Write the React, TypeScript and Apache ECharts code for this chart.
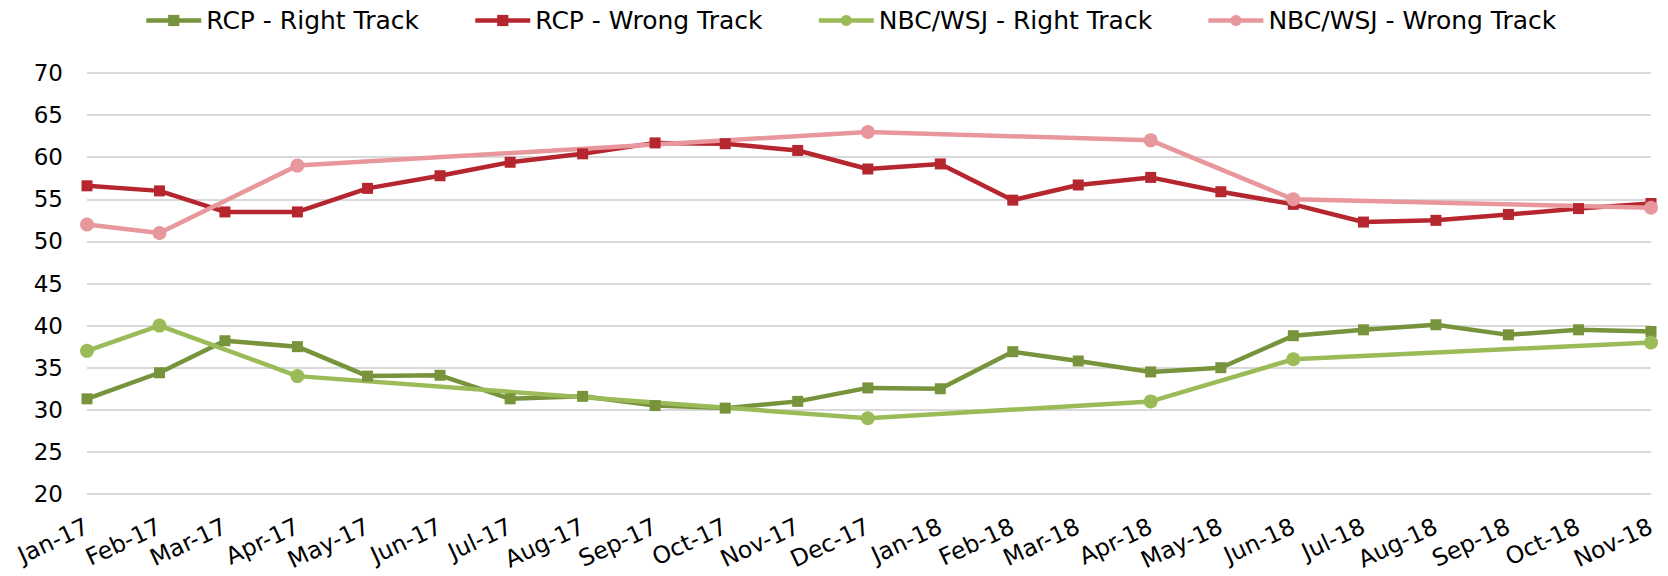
import React, { useEffect, useRef } from "react";
import * as echarts from "echarts";

const monthNames = ["Jan", "Feb", "Mar", "Apr", "May", "Jun", "Jul", "Aug", "Sep", "Oct", "Nov", "Dec"];

const rcpMonths = [
  "2017-01", "2017-02", "2017-03", "2017-04", "2017-05", "2017-06", "2017-07", "2017-08",
  "2017-09", "2017-10", "2017-11", "2017-12", "2018-01", "2018-02", "2018-03", "2018-04",
  "2018-05", "2018-06", "2018-07", "2018-08", "2018-09", "2018-10", "2018-11",
];
const rcpRight = [31.3, 34.4, 38.2, 37.5, 34.0, 34.1, 31.3, 31.6, 30.5, 30.2, 31.0, 32.6, 32.5, 36.9, 35.8, 34.5, 35.0, 38.8, 39.5, 40.1, 38.9, 39.5, 39.3];
const rcpWrong = [56.6, 56.0, 53.5, 53.5, 56.3, 57.8, 59.4, 60.4, 61.7, 61.6, 60.8, 58.6, 59.2, 54.9, 56.7, 57.6, 55.9, 54.4, 52.3, 52.5, 53.2, 53.9, 54.5];

const nbcMonths = ["2017-01", "2017-02", "2017-04", "2017-12", "2018-04", "2018-06", "2018-11"];
const nbcRight = [37, 40, 34, 29, 31, 36, 38];
const nbcWrong = [52, 51, 59, 63, 62, 55, 54];

const seriesNames = ["RCP - Right Track", "RCP - Wrong Track", "NBC/WSJ - Right Track", "NBC/WSJ - Wrong Track"];
const seriesColors = ["#77933C", "#B5262F", "#9BBB59", "#E8979D"];

const yMin = 20;
const yMax = 70;
const yStep = 5;

const FONT = "DejaVu Sans, Verdana, sans-serif";
const DAY = 86400000;

function toTime(m: string): number {
  const [y, mo] = m.split("-").map(Number);
  return Date.UTC(y, mo - 1, 1);
}

function pairs(months: string[], vals: number[]) {
  return months.map((m, i) => [toTime(m), vals[i]]);
}

export default function App() {
  const ref = useRef<HTMLDivElement>(null);
  useEffect(() => {
    if (!ref.current) return;
    const chart = echarts.init(ref.current, null, { renderer: "svg" });
    const mk = (idx: number, months: string[], vals: number[], symbol: string, size: number) => ({
      name: seriesNames[idx],
      type: "line",
      data: pairs(months, vals),
      symbol,
      symbolSize: size,
      showSymbol: true,
      color: seriesColors[idx],
      itemStyle: { color: seriesColors[idx] },
      lineStyle: { color: seriesColors[idx], width: 4.5 },
      emphasis: { disabled: true },
    });
    chart.setOption({
      animation: false,
      useUTC: true,
      backgroundColor: "#ffffff",
      textStyle: { fontFamily: FONT },
      legend: {
        left: 139,
        top: 3,
        itemWidth: 55,
        itemHeight: 14,
        itemGap: 54,
        lineStyle: { width: 4.5 },
        textStyle: { fontSize: 25, color: "#000", fontFamily: FONT },
        data: seriesNames,
      },
      grid: { left: 87, right: 17, top: 73, bottom: 82, containLabel: false, outerBoundsMode: "none" },
      xAxis: {
        type: "time",
        min: toTime(rcpMonths[0]),
        max: toTime(rcpMonths[rcpMonths.length - 1]),
        minInterval: 28 * DAY,
        maxInterval: 31 * DAY,
        axisLine: { show: false },
        axisTick: { show: false },
        splitLine: { show: false },
        axisLabel: {
          rotate: 25,
          margin: 31,
          fontSize: 23.5,
          color: "#000",
          fontFamily: FONT,
          hideOverlap: false,
          showMinLabel: true,
          showMaxLabel: true,
          formatter: (v: number) => {
            const d = new Date(v);
            return monthNames[d.getUTCMonth()] + "-" + String(d.getUTCFullYear()).slice(2);
          },
        },
      },
      yAxis: {
        type: "value",
        min: yMin,
        max: yMax,
        interval: yStep,
        axisLine: { show: false },
        axisTick: { show: false },
        axisLabel: { fontSize: 23, color: "#000", margin: 24, fontFamily: FONT },
        splitLine: { lineStyle: { color: "#D9D9D9", width: 2 } },
      },
      series: [
        mk(0, rcpMonths, rcpRight, "rect", 11),
        mk(1, rcpMonths, rcpWrong, "rect", 11),
        mk(2, nbcMonths, nbcRight, "circle", 14),
        mk(3, nbcMonths, nbcWrong, "circle", 14),
      ],
    });
    return () => chart.dispose();
  }, []);
  return (
    <div
      ref={ref}
      style={{ position: "absolute", left: 0, top: 0, width: 1668, height: 576, background: "#fff" }}
    />
  );
}
